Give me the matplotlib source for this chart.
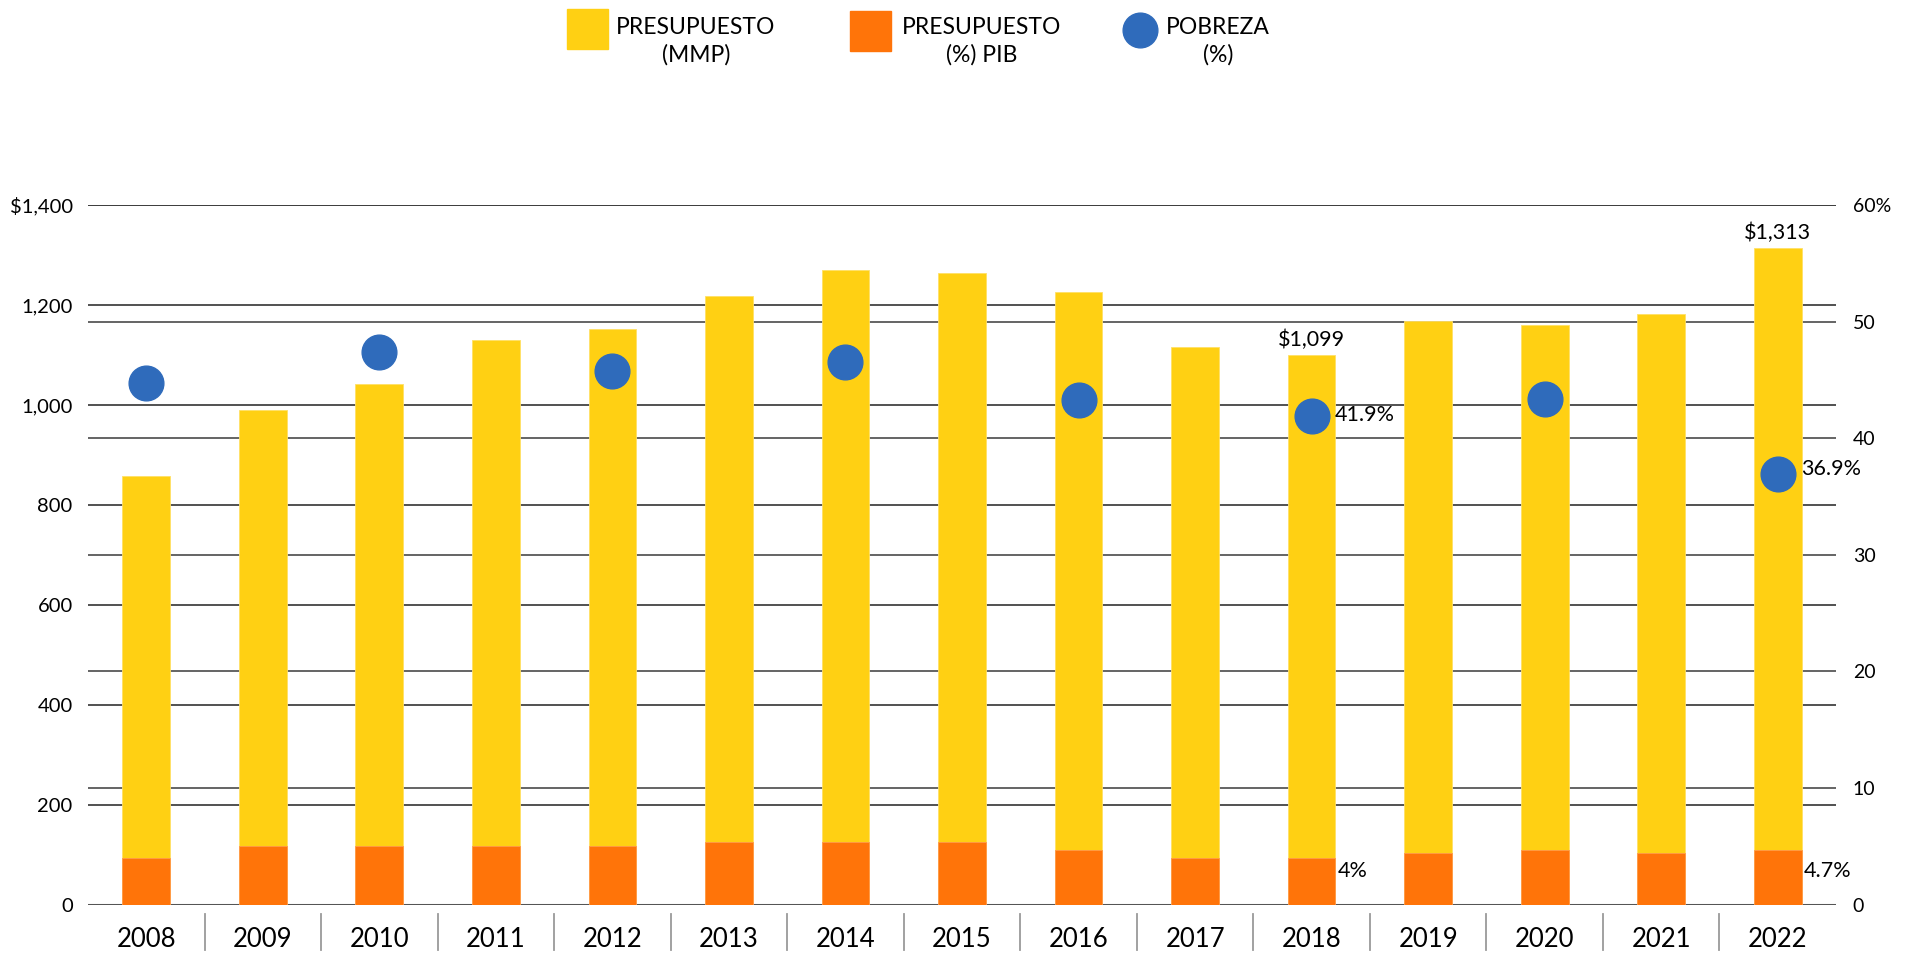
import matplotlib
matplotlib.use("Agg")
import matplotlib.pyplot as plt
import matplotlib.transforms as mtransforms
from matplotlib.patches import Rectangle
from matplotlib.lines import Line2D
import numpy as np

plt.rcParams['font.family'] = ['Lato', 'DejaVu Sans']

# datos
years = ['2008', '2009', '2010', '2011', '2012', '2013', '2014', '2015',
         '2016', '2017', '2018', '2019', '2020', '2021', '2022']
presupuesto_mmp = [857, 989, 1041, 1129, 1151, 1218, 1269, 1263,
                   1225, 1115, 1099, 1167, 1159, 1181, 1313]
presupuesto_pib = [4.0, 5.0, 5.0, 5.0, 5.0, 5.4, 5.4, 5.4,
                   4.7, 4.0, 4.0, 4.4, 4.7, 4.4, 4.7]
pobreza_years = ['2008', '2010', '2012', '2014', '2016', '2018', '2020', '2022']
pobreza = [44.7, 47.4, 45.8, 46.5, 43.3, 41.9, 43.4, 36.9]

left_ticks = [0, 200, 400, 600, 800, 1000, 1200, 1400]
left_labels = ['0', '200', '400', '600', '800', '1,000', '1,200', '$1,400']
right_ticks = [0, 10, 20, 30, 40, 50, 60]
right_labels = ['0', '10', '20', '30', '40', '50', '60%']

AMARILLO = '#FFD013'
NARANJA = '#FF7409'
AZUL = '#2F6BBB'

W, H = 1919, 955
fig = plt.figure(figsize=(W / 100, H / 100), dpi=100)
ax = fig.add_axes([88 / W, 1 - 904.7 / H, (1836 - 88) / W, 699.7 / H])
ax2 = ax.twinx()

x = np.arange(len(years))
ancho = 0.41

ax.set_xlim(-0.5, len(years) - 0.5)
ax.set_ylim(0, 1400)
ax2.set_ylim(0, 60)

# barras
ax.bar(x, presupuesto_mmp, width=ancho, color=AMARILLO, edgecolor='#FFE066',
       linewidth=0.6, zorder=2)
ax2.bar(x, presupuesto_pib, width=ancho, color=NARANJA, edgecolor='#FF9A4A',
        linewidth=0.6, zorder=2)
xp = [years.index(y) for y in pobreza_years]
ax2.plot(xp, pobreza, 'o', color=AZUL, markersize=25, zorder=3)

# cuadricula de los dos ejes, detras de las barras
ax.set_axisbelow(True)
ax.yaxis.grid(True, color='#222222', linewidth=1.1)
blend_r = mtransforms.blended_transform_factory(ax.transAxes, ax2.transData)
for t in right_ticks:
    ax.plot([0, 1], [t, t], transform=blend_r, color='#3a3a3a', lw=1.1, zorder=0.6)
ax.axhline(0, color='#555555', lw=2.2, zorder=4)

# ejes
ax.set_yticks(left_ticks)
ax.set_yticklabels(left_labels, fontsize=14.5)
ax2.set_yticks(right_ticks)
ax2.set_yticklabels(right_labels, fontsize=14)
ax.tick_params(axis='y', length=0, pad=11)
ax2.tick_params(axis='y', length=0, pad=12)
ax.set_xticks(x)
ax.set_xticklabels(years, fontsize=18.5)
ax.tick_params(axis='x', length=0, pad=16)
for a in (ax, ax2):
    for s in a.spines.values():
        s.set_visible(False)

# separadores de categorias
blend_x = mtransforms.blended_transform_factory(ax.transData, ax.transAxes)
for b in x[:-1] + 0.5:
    ax.plot([b, b], [-0.013, -0.065], transform=blend_x, color='#9a9a9a',
            lw=1.3, clip_on=False)

# etiquetas de datos
for yr in ['2018', '2022']:
    i = years.index(yr)
    ax.annotate('${:,}'.format(presupuesto_mmp[i]), (i, presupuesto_mmp[i]),
                xytext=(0, 4), textcoords='offset points', ha='center',
                va='bottom', fontsize=15.5)
    j = pobreza_years.index(yr)
    ax2.annotate('{}%'.format(pobreza[j]), (i, pobreza[j]),
                 xytext=(17, 1 if yr == '2018' else 4), textcoords='offset points',
                 ha='left', va='center', fontsize=15.5)
    v = presupuesto_pib[i]
    txt = '{:g}%'.format(v)
    ax2.annotate(txt, (i + ancho / 2, 0), xytext=(1.5, 24.5),
                 textcoords='offset points', ha='left', va='center', fontsize=15.5)

# leyenda
def fx(px):
    return px / W


def fy(py):
    return 1 - py / H


fig.add_artist(Rectangle((fx(567), fy(49)), 41 / W, 40 / H, color=AMARILLO,
                         transform=fig.transFigure))
fig.add_artist(Rectangle((fx(850), fy(51)), 41 / W, 40 / H, color=NARANJA,
                         transform=fig.transFigure))
fig.add_artist(Line2D([fx(1139.5)], [fy(30.5)], marker='o', markersize=25,
                      color=AZUL, linestyle='none', transform=fig.transFigure))
leyenda = [('PRESUPUESTO\n(MMP)', 696), ('PRESUPUESTO\n(%) PIB', 982),
           ('POBREZA\n(%)', 1218)]
for texto, cx in leyenda:
    fig.text(fx(cx), fy(41), texto, ha='center', va='center', fontsize=16.5,
             linespacing=1.35, multialignment='center')

fig.savefig('out.png', dpi=100)
